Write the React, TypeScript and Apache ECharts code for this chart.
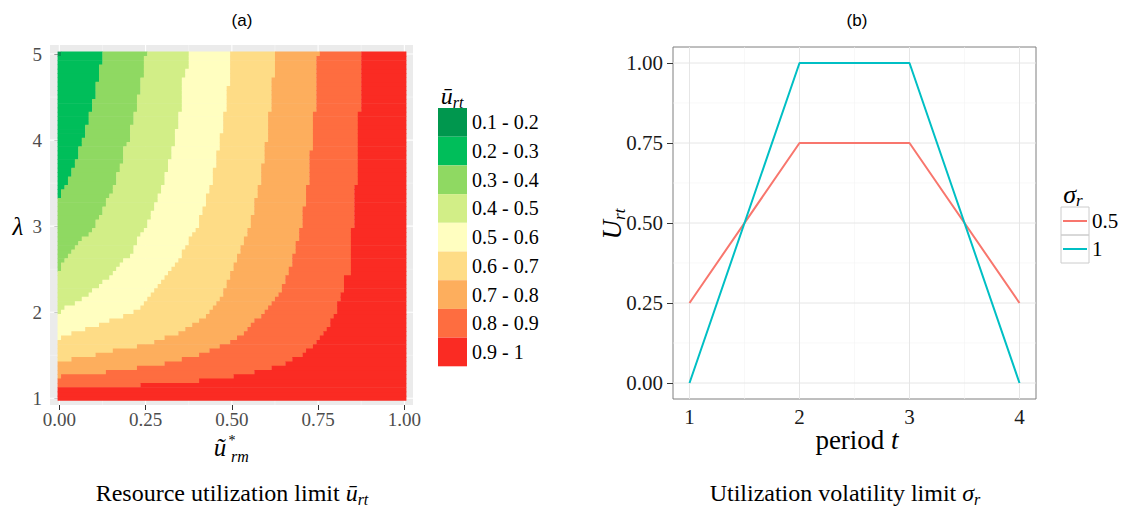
import React, { useEffect, useRef } from 'react';
import * as echarts from 'echarts';

// ---------- Panel (a) data: band labels / colours and boundaries ----------
const bandLabels = ['0.1 - 0.2', '0.2 - 0.3', '0.3 - 0.4', '0.4 - 0.5', '0.5 - 0.6', '0.6 - 0.7', '0.7 - 0.8', '0.8 - 0.9', '0.9 - 1'];
const bandColors = ['#00974E', '#00BE5A', '#8FD962', '#D2EE87', '#FFFEC0', '#FEDC86', '#FDAE5D', '#FE6D40', '#FA2B23'];

// Each boundary: [lowest lambda row of a run (runs listed from top), x position of the band edge]
const edge01 = [[5.0, 0.005]];
const edge12 = [[4.9, 0.125], [4.7, 0.115], [4.5, 0.105], [4.35, 0.095], [4.2, 0.085], [4.05, 0.075], [3.95, 0.065], [3.8, 0.055], [3.7, 0.045], [3.6, 0.035], [3.5, 0.025], [3.45, 0.015], [3.35, 0.005]];
const edge23 = [[5.0, 0.255], [4.75, 0.245], [4.55, 0.235], [4.35, 0.225], [4.2, 0.215], [4.0, 0.205], [3.95, 0.195], [3.75, 0.185], [3.65, 0.175], [3.5, 0.165], [3.4, 0.155], [3.35, 0.145], [3.25, 0.135], [3.15, 0.125], [3.1, 0.115], [3.0, 0.105], [2.95, 0.095], [2.9, 0.085], [2.85, 0.065], [2.8, 0.055], [2.75, 0.045], [2.7, 0.035], [2.65, 0.025], [2.6, 0.015], [2.5, 0.005]];
const edge34 = [[4.85, 0.375], [4.75, 0.365], [4.35, 0.355], [4.15, 0.345], [3.95, 0.335], [3.8, 0.325], [3.65, 0.315], [3.5, 0.305], [3.4, 0.295], [3.3, 0.285], [3.2, 0.275], [3.1, 0.265], [3.0, 0.255], [2.95, 0.245], [2.9, 0.235], [2.8, 0.225], [2.7, 0.215], [2.65, 0.205], [2.6, 0.185], [2.55, 0.175], [2.5, 0.165], [2.45, 0.155], [2.4, 0.145], [2.35, 0.125], [2.3, 0.115], [2.25, 0.095], [2.2, 0.085], [2.15, 0.065], [2.1, 0.045], [2.05, 0.015], [2.0, 0.005]];
const edge45 = [[4.65, 0.495], [4.35, 0.485], [4.1, 0.475], [3.9, 0.465], [3.7, 0.455], [3.5, 0.445], [3.4, 0.435], [3.25, 0.425], [3.15, 0.415], [3.0, 0.405], [2.95, 0.395], [2.9, 0.385], [2.8, 0.375], [2.75, 0.365], [2.65, 0.355], [2.6, 0.345], [2.55, 0.335], [2.5, 0.325], [2.45, 0.315], [2.4, 0.305], [2.35, 0.295], [2.3, 0.285], [2.25, 0.275], [2.2, 0.265], [2.15, 0.255], [2.1, 0.245], [2.05, 0.235], [2.0, 0.215], [1.95, 0.185], [1.9, 0.145], [1.85, 0.115], [1.8, 0.075], [1.75, 0.035], [1.7, 0.005]];
const edge56 = [[4.75, 0.625], [4.35, 0.615], [4.0, 0.605], [3.75, 0.595], [3.5, 0.585], [3.35, 0.575], [3.15, 0.565], [3.0, 0.555], [2.9, 0.545], [2.8, 0.535], [2.7, 0.525], [2.6, 0.515], [2.5, 0.505], [2.4, 0.495], [2.3, 0.485], [2.2, 0.475], [2.15, 0.465], [2.1, 0.455], [2.05, 0.445], [2.0, 0.435], [1.95, 0.425], [1.9, 0.405], [1.85, 0.385], [1.8, 0.365], [1.75, 0.345], [1.7, 0.305], [1.65, 0.275], [1.6, 0.225], [1.55, 0.155], [1.5, 0.105], [1.45, 0.035]];
const edge67 = [[5.0, 0.755], [4.35, 0.745], [3.9, 0.735], [3.5, 0.725], [3.25, 0.715], [3.0, 0.705], [2.85, 0.695], [2.7, 0.685], [2.55, 0.675], [2.45, 0.665], [2.35, 0.655], [2.25, 0.645], [2.2, 0.635], [2.15, 0.625], [2.1, 0.615], [2.05, 0.605], [2.0, 0.595], [1.95, 0.585], [1.9, 0.565], [1.85, 0.555], [1.8, 0.545], [1.75, 0.535], [1.7, 0.515], [1.65, 0.495], [1.6, 0.465], [1.55, 0.435], [1.5, 0.405], [1.45, 0.355], [1.4, 0.305], [1.35, 0.225], [1.3, 0.135], [1.25, 0.005]];
const edge78 = [[4.35, 0.875], [3.5, 0.865], [3.0, 0.855], [2.45, 0.845], [2.25, 0.825], [2.15, 0.815], [2.0, 0.805], [1.95, 0.795], [1.85, 0.785], [1.8, 0.775], [1.75, 0.765], [1.7, 0.755], [1.65, 0.745], [1.6, 0.735], [1.55, 0.715], [1.5, 0.705], [1.45, 0.675], [1.4, 0.655], [1.35, 0.615], [1.3, 0.565], [1.25, 0.505], [1.2, 0.405], [1.15, 0.235]];
const bandEdges = [edge01, edge12, edge23, edge34, edge45, edge56, edge67, edge78];

const lambdaFirst = 1;
const lambdaLast = 5;
const lambdaStep = 0.05;
const xCellLeft = -0.005;
const xCellRight = 1.005;

const aXTicks = [0, 0.25, 0.5, 0.75, 1];
const aXMinor = [0.125, 0.375, 0.625, 0.875];
const aYTicks = [1, 2, 3, 4, 5];
const aYMinor = [1.5, 2.5, 3.5, 4.5];

// ---------- Panel (b) data ----------
const periods = [1, 2, 3, 4];
const sigmaNames = ['0.5', '1'];
const uSigma05 = [0.25, 0.75, 0.75, 0.25];
const uSigma1 = [0, 1, 1, 0];
const lineColors = ['#F8766D', '#00BFC4'];
const bXTicks = [1, 2, 3, 4];
const bXMinor = [1.5, 2.5, 3.5];
const bYTicks = [0, 0.25, 0.5, 0.75, 1];
const bYMinor = [0.125, 0.375, 0.625, 0.875];

function edgeAt(edge: number[][], lam: number): number {
  for (const [lo, x] of edge) if (lam >= lo - 1e-6) return x;
  return xCellLeft;
}

function buildCells(): number[][][] {
  const out: number[][][] = bandLabels.map(() => []);
  const nRows = Math.round((lambdaLast - lambdaFirst) / lambdaStep);
  for (let r = 0; r <= nRows; r++) {
    const lam = +(lambdaFirst + r * lambdaStep).toFixed(3);
    const edges = [xCellLeft];
    bandEdges.forEach((e) => edges.push(Math.max(edges[edges.length - 1], edgeAt(e, lam))));
    edges.push(xCellRight);
    for (let k = 0; k < bandLabels.length; k++) {
      if (edges[k + 1] > edges[k] + 1e-9) out[k].push([edges[k], edges[k + 1], lam]);
    }
  }
  return out;
}

const SERIF = 'Liberation Serif';
const SANS = 'Liberation Sans';

export default function App() {
  const ref = useRef<HTMLDivElement>(null);
  useEffect(() => {
    if (!ref.current) return;
    const chart = echarts.init(ref.current, undefined, { renderer: 'svg' });
    const cells = buildCells();

    const aX = [-0.027, 1.025];
    const aY = [0.922, 5.105];
    const bX = [0.85, 4.15];
    const bY = [-0.05, 1.05];

    const gridLineSeries = (idx: number, xr: number[], yr: number[], items: number[][], majorColor: string, minorColor: string, majorW: number, minorW: number) => ({
      type: 'custom',
      coordinateSystem: 'cartesian2d',
      xAxisIndex: idx,
      yAxisIndex: idx,
      silent: true,
      z: 1,
      data: items,
      renderItem: (_p: any, api: any) => {
        const isX = api.value(0) === 0;
        const v = api.value(1);
        const major = api.value(2) === 1;
        const p0 = isX ? api.coord([v, yr[0]]) : api.coord([xr[0], v]);
        const p1 = isX ? api.coord([v, yr[1]]) : api.coord([xr[1], v]);
        return {
          type: 'line',
          shape: { x1: p0[0], y1: p0[1], x2: p1[0], y2: p1[1] },
          style: { stroke: major ? majorColor : minorColor, lineWidth: major ? majorW : minorW },
        };
      },
    });

    const gridItems = (xt: number[], xm: number[], yt: number[], ym: number[]) => [
      ...xm.map((v) => [0, v, 0]),
      ...ym.map((v) => [1, v, 0]),
      ...xt.map((v) => [0, v, 1]),
      ...yt.map((v) => [1, v, 1]),
    ];

    const bandSeries = bandLabels.map((name, k) => ({
      type: 'custom',
      name,
      coordinateSystem: 'cartesian2d',
      xAxisIndex: 0,
      yAxisIndex: 0,
      silent: true,
      z: 2,
      itemStyle: { color: bandColors[k] },
      encode: { x: [0, 1], y: 2 },
      data: cells[k],
      renderItem: (_p: any, api: any) => {
        const x0 = api.value(0);
        const x1 = api.value(1);
        const lam = api.value(2);
        const p0 = api.coord([x0, lam - lambdaStep / 2]);
        const p1 = api.coord([x1, lam + lambdaStep / 2]);
        return {
          type: 'rect',
          shape: { x: p0[0], y: p1[1] - 0.3, width: p1[0] - p0[0] + 0.3, height: p0[1] - p1[1] + 0.6 },
          style: { fill: bandColors[k] },
        };
      },
    }));

    const sub = (size: number, pad: number) => ({ fontFamily: SERIF, fontSize: size, fontStyle: 'italic', fill: '#000', padding: [pad, 0, 0, 0] });
    const main = (size: number, italic = true) => ({ fontFamily: SERIF, fontSize: size, fontStyle: italic ? 'italic' : 'normal', fill: '#000' });

    const text = (x: number, y: number, t: string, rich: any, extra: any = {}) => ({
      type: 'text',
      x,
      y,
      silent: true,
      ...extra,
      style: { text: t, rich, align: 'center', verticalAlign: 'middle', fontFamily: SERIF },
    });

    const option: any = {
      animation: false,
      backgroundColor: '#ffffff',
      textStyle: { fontFamily: SERIF },
      grid: [
        { left: 50, top: 45, width: 363, height: 360, show: true, backgroundColor: '#EBEBEB', borderWidth: 0 },
        { left: 673, top: 47, width: 363, height: 352, show: true, backgroundColor: '#ffffff', borderColor: '#7F7F7F', borderWidth: 1 },
      ],
      xAxis: [
        {
          type: 'value', gridIndex: 0, min: aX[0], max: aX[1],
          axisLine: { show: false }, splitLine: { show: false },
          axisTick: { show: true, customValues: aXTicks, length: 5, lineStyle: { color: '#333333', width: 1 } },
          axisLabel: { customValues: aXTicks, formatter: (v: number) => v.toFixed(2), color: '#4D4D4D', fontFamily: SERIF, fontSize: 19, margin: 5 },
        },
        {
          type: 'value', gridIndex: 1, min: bX[0], max: bX[1],
          axisLine: { show: false }, splitLine: { show: false },
          axisTick: { show: true, customValues: bXTicks, length: 6, lineStyle: { color: '#333333', width: 1 } },
          axisLabel: { customValues: bXTicks, formatter: (v: number) => String(v), color: '#1A1A1A', fontFamily: SERIF, fontSize: 21, margin: 7 },
        },
      ],
      yAxis: [
        {
          type: 'value', gridIndex: 0, min: aY[0], max: aY[1],
          axisLine: { show: false }, splitLine: { show: false },
          axisTick: { show: true, customValues: aYTicks, length: 5, lineStyle: { color: '#333333', width: 1 } },
          axisLabel: { customValues: aYTicks, formatter: (v: number) => String(v), color: '#4D4D4D', fontFamily: SERIF, fontSize: 19, margin: 8 },
        },
        {
          type: 'value', gridIndex: 1, min: bY[0], max: bY[1],
          axisLine: { show: false }, splitLine: { show: false },
          axisTick: { show: true, customValues: bYTicks, length: 6, lineStyle: { color: '#333333', width: 1 } },
          axisLabel: { customValues: bYTicks, formatter: (v: number) => v.toFixed(2), color: '#1A1A1A', fontFamily: SERIF, fontSize: 21, margin: 10 },
        },
      ],
      legend: [
        {
          data: bandLabels, orient: 'vertical', left: 438, top: 108, padding: 0, itemGap: 0,
          itemWidth: 29, itemHeight: 28.7, icon: 'rect', selectedMode: false,
          textStyle: { fontFamily: SERIF, fontSize: 20, color: '#000', lineHeight: 28.7 },
        },
        {
          data: sigmaNames, orient: 'vertical', left: 1063, top: 207, padding: 0, itemGap: 0,
          itemWidth: 24, itemHeight: 2, icon: 'rect', selectedMode: false,
          textStyle: { fontFamily: SERIF, fontSize: 21, color: '#000', lineHeight: 28 },
        },
      ],
      series: [
        gridLineSeries(0, aX, aY, gridItems(aXTicks, aXMinor, aYTicks, aYMinor), '#FFFFFF', '#F7F7F7', 1.1, 0.6),
        ...bandSeries,
        gridLineSeries(1, bX, bY, gridItems(bXTicks, bXMinor, bYTicks, bYMinor), '#E6E6E6', '#F4F4F4', 1, 0.6),
        {
          type: 'line', name: sigmaNames[0], xAxisIndex: 1, yAxisIndex: 1, z: 3, silent: true,
          showSymbol: false, symbol: 'none', color: lineColors[0], lineStyle: { width: 2, color: lineColors[0] },
          data: periods.map((p, i) => [p, uSigma05[i]]),
        },
        {
          type: 'line', name: sigmaNames[1], xAxisIndex: 1, yAxisIndex: 1, z: 3, silent: true,
          showSymbol: false, symbol: 'none', color: lineColors[1], lineStyle: { width: 2, color: lineColors[1] },
          data: periods.map((p, i) => [p, uSigma1[i]]),
        },
      ],
      graphic: [
        { type: 'text', x: 242, y: 20, silent: true, style: { text: '(a)', fontFamily: SANS, fontSize: 17, fill: '#000', align: 'center', verticalAlign: 'middle' } },
        { type: 'text', x: 857, y: 20, silent: true, style: { text: '(b)', fontFamily: SANS, fontSize: 17, fill: '#000', align: 'center', verticalAlign: 'middle' } },
        // panel (a) axis titles
        text(18, 226, '{m|λ}', { m: main(25) }),
        text(220, 447, '{m|ũ}', { m: main(25) }),
        text(232, 440, '{m|*}', { m: main(14, false) }),
        text(240, 456, '{m|rm}', { m: main(16) }),
        // legend (a) title
        text(452, 96, '{m|ū}{s|rt}', { m: main(24), s: sub(16, 12) }),
        // panel (b) axis titles
        text(612, 224, '{m|U}{s|rt}', { m: main(27), s: sub(17, 14) }, { rotation: Math.PI / 2 }),
        text(857, 440, '{n|period }{m|t}', { n: main(27, false), m: main(27) }),
        // legend (b) title and key boxes
        text(1073, 194, '{m|σ}{s|r}', { m: main(26), s: sub(17, 13) }),
        { type: 'rect', silent: true, shape: { x: 1061, y: 207, width: 28, height: 28 }, style: { fill: 'none', stroke: '#CCCCCC', lineWidth: 1 } },
        { type: 'rect', silent: true, shape: { x: 1061, y: 235, width: 28, height: 28 }, style: { fill: 'none', stroke: '#CCCCCC', lineWidth: 1 } },
        // captions
        text(232, 493, '{n|Resource utilization limit }{m|ū}{s|rt}', { n: main(24, false), m: main(24), s: sub(16, 13) }),
        text(845, 493, '{n|Utilization volatility limit }{m|σ}{s|r}', { n: main(24, false), m: main(24), s: sub(16, 13) }),
      ],
    };
    chart.setOption(option);
    return () => chart.dispose();
  }, []);
  return <div ref={ref} style={{ position: 'absolute', left: 0, top: 0, width: 1128, height: 508, background: '#fff' }} />;
}
